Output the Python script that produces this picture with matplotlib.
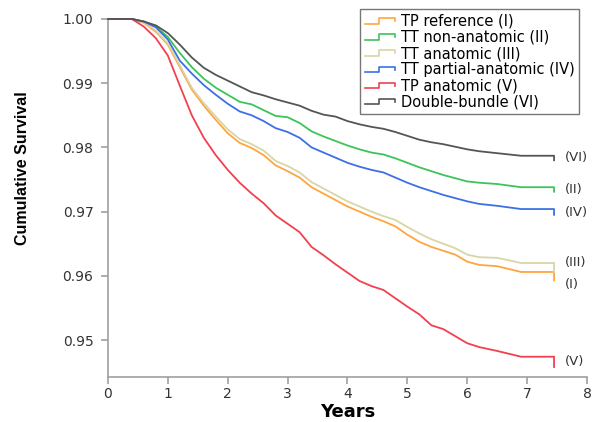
# Kaplan-Meier style survival curves by graft type

import matplotlib
matplotlib.use('Agg')
import matplotlib.pyplot as plt
from matplotlib.lines import Line2D
from matplotlib.legend_handler import HandlerBase

plt.rcParams['font.family'] = ['DejaVu Sans']

years = [0, 0.4, 0.6, 0.8, 1.0, 1.2, 1.4, 1.6, 1.8, 2.0, 2.2, 2.4, 2.6, 2.8, 3.0,
         3.2, 3.4, 3.6, 3.8, 4.0, 4.2, 4.4, 4.6, 4.8, 5.0, 5.2, 5.4, 5.6, 5.8, 6.0,
         6.2, 6.5, 6.9, 7.45, 7.45]

survTPref = [1, 1, 0.9994, 0.9980, 0.9960, 0.9925, 0.9890, 0.9865, 0.9843, 0.9822,
             0.9807, 0.9799, 0.9788, 0.9772, 0.9763, 0.9753, 0.9738, 0.9728, 0.9718,
             0.9708, 0.9700, 0.9692, 0.9685, 0.9677, 0.9664, 0.9653, 0.9645, 0.9639,
             0.9633, 0.9622, 0.9617, 0.9615, 0.9606, 0.9606, 0.9593]
survTTnon = [1, 1, 0.9996, 0.9988, 0.9972, 0.9947, 0.9925, 0.9907, 0.9893, 0.9882,
             0.9871, 0.9867, 0.9858, 0.9849, 0.9847, 0.9838, 0.9825, 0.9817, 0.9810,
             0.9803, 0.9797, 0.9792, 0.9789, 0.9783, 0.9776, 0.9769, 0.9763, 0.9757,
             0.9752, 0.9747, 0.9745, 0.9743, 0.9738, 0.9738, 0.9731]
survTTana = [1, 1, 0.9995, 0.9982, 0.9962, 0.9928, 0.9893, 0.9869, 0.9848, 0.9828,
             0.9813, 0.9805, 0.9795, 0.9779, 0.9771, 0.9761, 0.9746, 0.9736, 0.9726,
             0.9716, 0.9708, 0.9700, 0.9693, 0.9687, 0.9676, 0.9666, 0.9657, 0.9650,
             0.9643, 0.9633, 0.9629, 0.9628, 0.9620, 0.9620, 0.9606]
survTTpart = [1, 1, 0.9996, 0.9987, 0.9968, 0.9935, 0.9915, 0.9897, 0.9882, 0.9868,
              0.9856, 0.9850, 0.9841, 0.9830, 0.9824, 0.9815, 0.9800, 0.9792, 0.9784,
              0.9776, 0.9770, 0.9765, 0.9761, 0.9753, 0.9745, 0.9738, 0.9732, 0.9726,
              0.9721, 0.9716, 0.9712, 0.9709, 0.9704, 0.9704, 0.9695]
survTPana = [1, 1, 0.9988, 0.9970, 0.9943, 0.9896, 0.9850, 0.9815, 0.9788, 0.9765,
             0.9745, 0.9728, 0.9713, 0.9694, 0.9681, 0.9668, 0.9645, 0.9632, 0.9618,
             0.9605, 0.9592, 0.9584, 0.9578, 0.9565, 0.9552, 0.9540, 0.9523, 0.9517,
             0.9506, 0.9495, 0.9489, 0.9483, 0.9474, 0.9474, 0.9458]
survDouble = [1, 1, 0.9996, 0.9990, 0.9978, 0.9960, 0.9940, 0.9924, 0.9913, 0.9904,
              0.9895, 0.9886, 0.9881, 0.9875, 0.9870, 0.9865, 0.9857, 0.9851, 0.9848,
              0.9841, 0.9836, 0.9832, 0.9829, 0.9824, 0.9818, 0.9812, 0.9808, 0.9805,
              0.9801, 0.9797, 0.9794, 0.9791, 0.9787, 0.9787, 0.9780]

seriesNames = ['TP reference (I)', 'TT non-anatomic (II)', 'TT anatomic (III)',
               'TT partial-anatomic (IV)', 'TP anatomic (V)', 'Double-bundle (VI)']
seriesShort = ['(I)', '(II)', '(III)', '(IV)', '(V)', '(VI)']
seriesData = [survTPref, survTTnon, survTTana, survTTpart, survTPana, survDouble]
seriesColors = ['#FFA540', '#3CC45A', '#D9D5A7', '#3D6FE6', '#F2404F', '#555555']
# where the roman numeral tags sit at the right end
tagY = [0.9587, 0.9735, 0.9620, 0.9698, 0.9467, 0.9785]


class StepHandler(HandlerBase):
    """draw a little step glyph in the legend"""
    def create_artists(self, legend, orig_handle, xdescent, ydescent,
                       width, height, fontsize, trans):
        x0 = -xdescent
        lo = -ydescent + height * 0.2
        hi = -ydescent + height * 0.75
        xs = [x0, x0 + width * 0.45, x0 + width * 0.45, x0 + width * 0.95, x0 + width * 0.95]
        ys = [lo, lo, hi, hi, hi - height * 0.3]
        ln = Line2D(xs, ys, color=orig_handle.get_color(), lw=1.2, transform=trans)
        return [ln]


fig = plt.figure(figsize=(5.94, 4.22), dpi=100)
ax = fig.add_axes([0.1818, 0.1066, 0.8064, 0.8484])

handles = []
for i in range(len(seriesData)):
    ln, = ax.plot(years, seriesData[i], color=seriesColors[i], lw=1.3,
                  label=seriesNames[i], clip_on=False, zorder=3)
    handles.append(ln)
    ax.text(7.63, tagY[i], seriesShort[i], fontsize=9.5, color='#333333',
            ha='left', va='center')

ax.set_xlim(0, 8)
ax.set_ylim(0.94424, 1.0)
ax.set_xticks(range(0, 9))
ax.set_yticks([0.95, 0.96, 0.97, 0.98, 0.99, 1.00])
ax.set_yticklabels(['0.95', '0.96', '0.97', '0.98', '0.99', '1.00'])

for s in ['top', 'right']:
    ax.spines[s].set_visible(False)
for s in ['left', 'bottom']:
    ax.spines[s].set_color('#A0A0A0')
    ax.spines[s].set_linewidth(1.2)
ax.tick_params(length=5, width=1.2, color='#A0A0A0', labelsize=10,
               labelcolor='#333333')
ax.tick_params(axis='x', pad=2.5)
ax.tick_params(axis='y', pad=5.5)

ax.set_xlabel('Years', fontsize=13, fontweight='bold', va='center')
ax.xaxis.set_label_coords(0.501, -0.098)
ax.set_ylabel('Cumulative Survival', fontsize=11.5, fontweight='bold',
              family='Liberation Sans', va='center')
ax.yaxis.set_label_coords(-0.178, 0.584)

leg = ax.legend(handles=handles, handler_map={Line2D: StepHandler()},
                loc='upper left', bbox_to_anchor=(0.527, 1.027), fontsize=10.5,
                fancybox=False, framealpha=1, edgecolor='#777777',
                handlelength=2.2, handletextpad=0.3, labelspacing=0.08,
                borderpad=0.3, borderaxespad=0)
leg.get_frame().set_linewidth(1.0)

plt.savefig('out.png', dpi=100)
